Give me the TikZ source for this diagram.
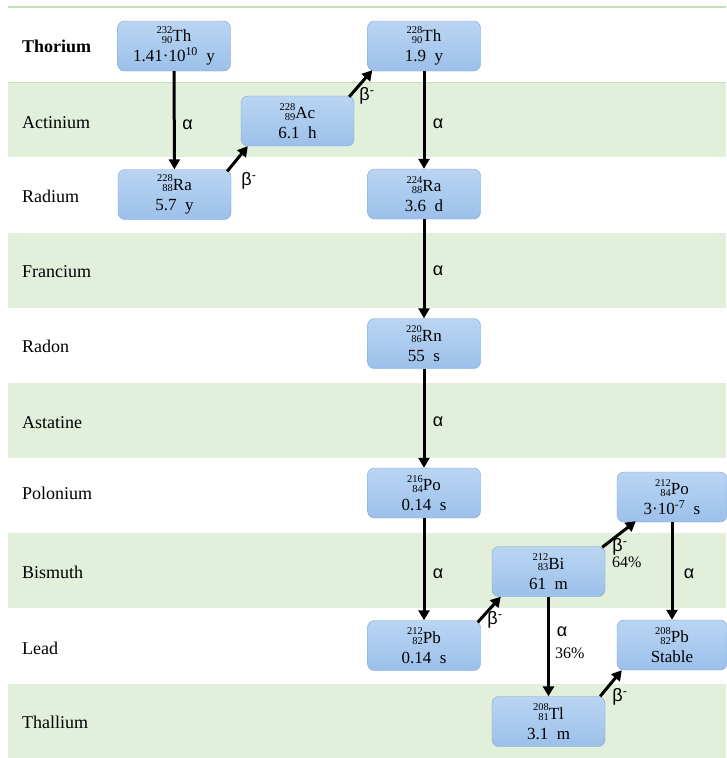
\documentclass[tikz,border=0pt]{standalone}
\usepackage{fontspec}
\setmainfont{Liberation Serif}
\newfontfamily\grk{Liberation Sans}
\usetikzlibrary{arrows.meta}
\definecolor{band}{HTML}{E2EFDA}
\definecolor{bandline}{HTML}{C5E0B4}
\definecolor{boxtop}{HTML}{BAD5F2}
\definecolor{boxbot}{HTML}{9CC0EA}
\definecolor{boxline}{HTML}{7AA3D2}
\newcommand\nuc[3]{\raisebox{-1.5pt}{\fontsize{10.5}{10}\selectfont\shortstack[r]{#1\\#2}}#3}
\newcommand\bminus{β\textsuperscript{-}}
\begin{document}
\begin{tikzpicture}[x=1pt,y=-1pt,
    nuclide/.style={rectangle, rounded corners=7pt, draw=boxline, top color=boxtop,
      bottom color=boxbot, minimum width=113pt, minimum height=50pt, align=center,
      inner sep=0pt, font=\fontsize{17}{20}\selectfont},
    decay/.style={-{Triangle[length=10pt,width=11pt]}, line width=3pt},
    lbl/.style={font=\grk\fontsize{18}{18}\selectfont, inner sep=0pt},
    pct/.style={font=\fontsize{16}{16}\selectfont, inner sep=0pt},
    rowname/.style={anchor=west, font=\fontsize{18}{20}\selectfont, inner sep=0pt}]
    \useasboundingbox (0,0) rectangle (726,758);
    % table rows
    \foreach \y in {82,233,383,533,684}
    \fill[band] (8,\y) rectangle (726,\y+75);
    \draw[bandline, line width=1.2pt] (8,7) -- (726,7);
    \draw[bandline, line width=1pt] (8,82) -- (726,82);
    \node[rowname, font=\bfseries\fontsize{18}{20}\selectfont] (rowTh) at (22,46.5) {Thorium};
    \foreach \n/\y in {Actinium/123, Radium/196.5, Francium/271.5, Radon/346.5, Astatine/423,
      Polonium/493.5, Bismuth/572.5, Lead/648.5, Thallium/722.5}
    \node[rowname] (row\n) at (22,\y) {\n};

    % nuclides
    \node[nuclide] (th232) at (174,46) {\nuc{232}{90}{Th}\\1.41·10\textsuperscript{10}\enspace y};
    \node[nuclide] (ac228) at (297.5,121) {\nuc{228}{89}{Ac}\\6.1\enspace h};
    \node[nuclide] (ra228) at (174.5,194.5) {\nuc{228}{88}{Ra}\\5.7\enspace y};
    \node[nuclide] (th228) at (424,46) {\nuc{228}{90}{Th}\\1.9\enspace y};
    \node[nuclide] (ra224) at (424,194) {\nuc{224}{88}{Ra}\\3.6\enspace d};
    \node[nuclide] (rn220) at (424,343.5) {\nuc{220}{86}{Rn}\\55\enspace s};
    \node[nuclide] (po216) at (424,493) {\nuc{216}{84}{Po}\\0.14\enspace s};
    \node[nuclide] (pb212) at (424,645.5) {\nuc{212}{82}{Pb}\\0.14\enspace s};
    \node[nuclide] (bi212) at (548.5,571.5) {\nuc{212}{83}{Bi}\\61\enspace m};
    \node[nuclide] (tl208) at (548.5,721.5) {\nuc{208}{81}{Tl}\\3.1\enspace m};
    \node[nuclide, minimum width=110pt] (po212) at (672,497) {\nuc{212}{84}{Po}\\3·10\textsuperscript{-7}\enspace s};
    \node[nuclide, minimum width=110pt] (pb208) at (672,645) {\nuc{208}{82}{Pb}\\Stable};

    % decays
    \draw[decay] (th232) -- (ra228);
    \draw[decay] ([xshift=-4pt,yshift=-2pt]ra228.north east) -- ([xshift=7pt]ac228.south west);
    \draw[decay] ([xshift=-5pt,yshift=-1pt]ac228.north east) -- ([xshift=5pt,yshift=1pt]th228.south west);
    \draw[decay] (th228) -- (ra224);
    \draw[decay] (ra224) -- (rn220);
    \draw[decay] (rn220) -- (po216);
    \draw[decay] (po216) -- (pb212);
    \draw[decay] ([xshift=-3pt,yshift=-2pt]pb212.north east) -- ([xshift=9pt]bi212.south west);
    \draw[decay] ([xshift=-3pt,yshift=-1pt]bi212.north east) -- ([xshift=19pt,yshift=1pt]po212.south west);
    \draw[decay] (bi212) -- (tl208);
    \draw[decay] (po212) -- (pb208);
    \draw[decay] ([xshift=-5pt]tl208.north east) -- ([xshift=5pt]pb208.south west);

    % labels
    \node[lbl] (a1) at (187.5,125) {α};
    \node[lbl] (b1) at (249,181) {\bminus};
    \node[lbl] (b2) at (367,96) {\bminus};
    \node[lbl] (a2) at (438,124) {α};
    \node[lbl] (a3) at (438,271) {α};
    \node[lbl] (a4) at (438,422) {α};
    \node[lbl] (a5) at (438,574) {α};
    \node[lbl] (b3) at (495,620) {\bminus};
    \node[lbl] (b4) at (620,547) {\bminus};
    \node[pct, anchor=west] (p64) at (612,562) {64\%};
    \node[lbl] (a6) at (689,574) {α};
    \node[lbl] (a7) at (562,632) {α};
    \node[pct, anchor=west] (p36) at (555,653) {36\%};
    \node[lbl] (b5) at (620,697) {\bminus};
\end{tikzpicture}
\end{document}
